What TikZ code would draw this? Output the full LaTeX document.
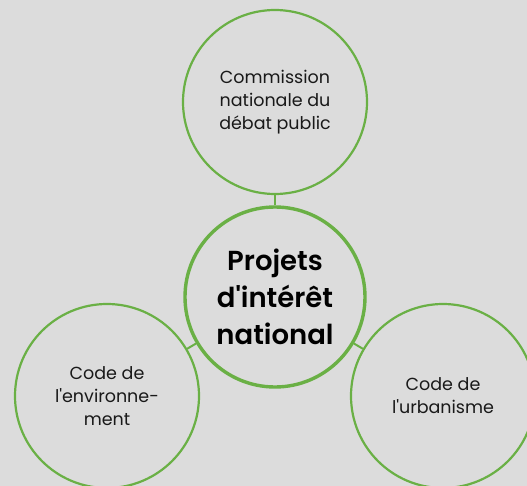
\documentclass[tikz,border=0pt]{standalone}
\usepackage{fontspec}
\setmainfont{Poppins}[Ligatures=TeXOff,BoldFont={Poppins SemiBold}]
\definecolor{bg}{RGB}{220,220,220}
\definecolor{grn}{RGB}{106,176,69}
\begin{document}
\begin{tikzpicture}[x=1pt,y=-1pt,
  outer/.style={circle,draw=grn,line width=2.2pt,minimum size=184pt,inner sep=0pt,align=center,font=\fontsize{17.5}{23}\selectfont,text=black!90},
  hub/.style={circle,draw=grn,line width=3.4pt,minimum size=180pt,inner sep=0pt,align=center,font=\fontsize{27.5}{37}\selectfont\bfseries,text=black},
  link/.style={draw=grn,line width=2pt}]
\useasboundingbox (0,0) rectangle (527,486);
\clip (0,0) rectangle (527,486);
\fill[bg] (0,0) rectangle (527,486);
\node[hub] (hub) at (275,297) {Projets\\d'intérêt\\national};
\node[outer] (cndp) at (275,102) {Commission\\nationale du\\débat public};
\node[outer] (env) at (107,396) {Code de\\l'environne-\\ment};
\node[outer] (urb) at (443,396) {Code de\\l'urbanisme};
\draw[link] (hub) -- (cndp);
\draw[link] (hub) -- (env);
\draw[link] (hub) -- (urb);
\end{tikzpicture}
\end{document}
